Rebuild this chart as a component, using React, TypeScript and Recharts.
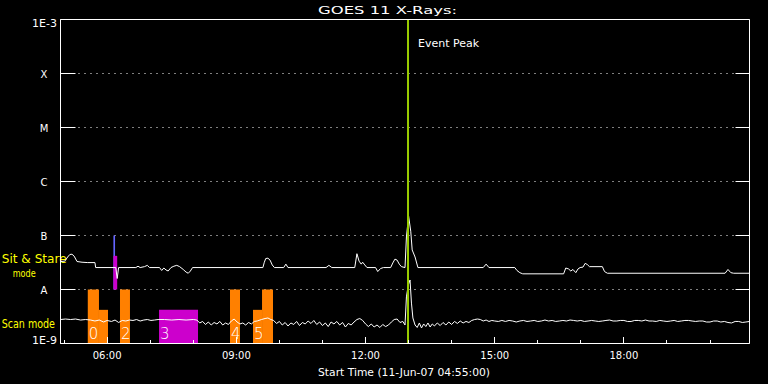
import {
  CartesianGrid,
  ComposedChart,
  Line,
  ReferenceArea,
  ReferenceLine,
  XAxis,
  YAxis,
} from "recharts";

const FONT = "'DejaVu Sans', sans-serif";
const YELLOW = "#ffff00";
const PEAK_GREEN = "#99cc00";
const KIND_COLOR: Record<string, string> = {
  scanA: "#ff8000",
  scanB: "#cc00cc",
  stareA: "#6464ff",
  stareB: "#cc00cc",
};

// time in minutes after 00:00 UT, 11-Jun-07
const T_START = 295; // 04:55
const T_END = 1255;
const EVENT_PEAK = 779.2;

const HOUR_TICKS = [300, 360, 420, 480, 540, 600, 660, 720, 780, 840, 900, 960, 1020, 1080, 1140, 1200];
const HOUR_LABELS = ["", "06:00", "", "", "09:00", "", "", "12:00", "", "", "15:00", "", "", "18:00", "", ""];

const FLUX_TICKS = [1e-9, 1e-8, 1e-7, 1e-6, 1e-5, 1e-4, 1e-3];
const FLUX_LABELS = ["1E-9", "A", "B", "C", "M", "X", "1E-3"];

// 1-8 A channel [minute, W/m^2]
const LONG_CH: [number, number][] = [
  [295, 3.3e-8], [301, 3.35e-8], [305, 4.0e-8], [308, 4.45e-8], [311, 4.5e-8], [314, 4.15e-8],
  [318, 3.3e-8], [325, 3.2e-8], [333, 3.15e-8], [343, 3.15e-8], [344, 2.55e-8], [372, 2.55e-8],
  [374, 1.6e-8], [376, 2.55e-8], [400, 2.55e-8], [403, 2.7e-8], [406, 2.55e-8], [412, 2.65e-8],
  [416, 2.8e-8], [419, 2.55e-8], [433, 2.55e-8], [436, 2.25e-8], [439, 2.5e-8], [442, 2.3e-8],
  [445, 2.2e-8], [449, 2.55e-8], [453, 2.7e-8], [457, 2.8e-8], [461, 2.65e-8], [466, 2.35e-8],
  [470, 2.1e-8], [473, 2.0e-8], [476, 2.2e-8], [479, 2.55e-8], [577, 2.55e-8], [579, 3.2e-8],
  [581, 3.75e-8], [584, 3.8e-8], [587, 3.5e-8], [590, 2.85e-8], [593, 2.55e-8], [606, 2.55e-8],
  [609, 2.95e-8], [612, 2.55e-8], [665, 2.55e-8], [669, 2.8e-8], [673, 2.55e-8], [705, 2.55e-8],
  [708, 4.6e-8], [711, 3.35e-8], [714, 2.95e-8], [716, 3.2e-8], [719, 2.85e-8], [722, 2.55e-8],
  [734, 2.55e-8], [737, 2.15e-8], [741, 2.45e-8], [745, 2.55e-8], [755, 2.55e-8], [758, 3.1e-8],
  [761, 3.65e-8], [764, 3.5e-8], [767, 2.95e-8], [770, 2.65e-8], [775, 2.55e-8], [777, 9.4e-8],
  [780, 2.3e-7], [783, 1.2e-7], [785, 5.4e-8], [789, 4.0e-8], [793, 2.55e-8], [884, 2.55e-8],
  [888, 2.95e-8], [892, 2.55e-8], [928, 2.55e-8], [931, 2.25e-8], [935, 2.05e-8], [939, 1.95e-8],
  [996, 1.95e-8], [999, 2.5e-8], [1003, 2.4e-8], [1006, 2.2e-8], [1009, 2.35e-8], [1013, 2.05e-8],
  [1016, 2.4e-8], [1019, 2.55e-8], [1023, 2.6e-8], [1026, 3.05e-8], [1029, 2.9e-8], [1032, 2.65e-8],
  [1050, 2.65e-8], [1053, 2.15e-8], [1057, 2.0e-8], [1221, 2.0e-8], [1225, 2.35e-8], [1229, 2.05e-8],
  [1233, 2.0e-8], [1255, 2.0e-8],
];

// 0.5-4 A channel [minute, W/m^2]
const SHORT_CH: [number, number][] = [
  [295, 2.78e-9], [302, 2.84e-9], [309, 2.78e-9], [316, 2.84e-9], [323, 2.72e-9], [330, 2.78e-9],
  [337, 2.72e-9], [343, 2.61e-9], [349, 2.72e-9], [355, 2.5e-9], [360, 2.67e-9], [366, 2.56e-9],
  [371, 2.72e-9], [376, 2.45e-9], [381, 2.67e-9], [386, 2.61e-9], [391, 2.72e-9], [396, 2.67e-9],
  [401, 2.78e-9], [406, 2.61e-9], [411, 2.72e-9], [416, 2.78e-9], [421, 2.67e-9], [426, 2.72e-9],
  [431, 2.78e-9], [440, 2.78e-9], [450, 2.72e-9], [460, 2.78e-9], [470, 2.72e-9], [480, 2.78e-9],
  [485, 2.72e-9], [489, 2.4e-9], [493, 2.56e-9], [497, 2.25e-9], [501, 2.5e-9], [505, 2.2e-9],
  [509, 2.45e-9], [513, 2.3e-9], [517, 2.56e-9], [521, 2.2e-9], [525, 2.4e-9], [529, 2.25e-9],
  [533, 2.61e-9], [537, 2.84e-9], [541, 2.5e-9], [545, 2.3e-9], [549, 2.4e-9], [553, 2.2e-9],
  [557, 2.45e-9], [561, 2.3e-9], [565, 2.56e-9], [569, 2.61e-9], [575, 2.78e-9], [580, 2.9e-9],
  [584, 2.97e-9], [588, 2.78e-9], [592, 2.67e-9], [596, 2.35e-9], [600, 2.56e-9], [604, 2.2e-9],
  [608, 2.45e-9], [612, 2.11e-9], [616, 2.4e-9], [620, 2.25e-9], [624, 2.56e-9], [628, 2.15e-9],
  [632, 2.45e-9], [636, 2.3e-9], [640, 2.61e-9], [644, 2.35e-9], [648, 2.67e-9], [652, 2.25e-9],
  [656, 2.5e-9], [660, 2.15e-9], [664, 2.4e-9], [668, 2.06e-9], [672, 2.5e-9], [676, 2.3e-9],
  [680, 2.56e-9], [684, 2.2e-9], [688, 2.45e-9], [692, 2.02e-9], [696, 2.35e-9], [700, 2.2e-9],
  [704, 2.5e-9], [708, 2.78e-9], [712, 2.9e-9], [716, 2.67e-9], [720, 2.3e-9], [724, 2.06e-9],
  [728, 2.3e-9], [732, 2.02e-9], [736, 2.2e-9], [740, 1.98e-9], [744, 2.25e-9], [748, 2.06e-9],
  [752, 2.2e-9], [756, 2.5e-9], [760, 2.78e-9], [764, 2.84e-9], [768, 2.45e-9], [772, 2.56e-9],
  [775, 2.2e-9], [777, 7.3e-9], [779.5, 1.2e-8], [782, 1.5e-8], [784, 5.6e-9], [786, 2.97e-9],
  [789, 2.2e-9], [792, 1.98e-9], [795, 2.4e-9], [798, 1.94e-9], [801, 2.3e-9], [804, 2.06e-9],
  [807, 2.4e-9], [810, 2.02e-9], [813, 2.3e-9], [816, 2.11e-9], [820, 2.4e-9], [824, 2.15e-9],
  [828, 2.45e-9], [832, 2.2e-9], [836, 2.5e-9], [840, 2.25e-9], [844, 2.56e-9], [848, 2.35e-9],
  [852, 2.61e-9], [856, 2.4e-9], [860, 2.56e-9], [864, 2.45e-9], [868, 2.67e-9], [872, 2.78e-9],
  [876, 2.84e-9], [880, 2.78e-9], [884, 2.61e-9], [888, 2.72e-9], [892, 2.56e-9], [896, 2.67e-9],
  [900, 2.61e-9], [905, 2.56e-9], [910, 2.67e-9], [915, 2.56e-9], [920, 2.67e-9], [925, 2.61e-9],
  [930, 2.5e-9], [935, 2.61e-9], [940, 2.67e-9], [945, 2.56e-9], [950, 2.61e-9], [955, 2.67e-9],
  [960, 2.56e-9], [965, 2.61e-9], [970, 2.72e-9], [975, 2.61e-9], [980, 2.67e-9], [985, 2.56e-9],
  [990, 2.61e-9], [995, 2.67e-9], [1000, 2.61e-9], [1005, 2.72e-9], [1010, 2.67e-9], [1015, 2.61e-9],
  [1020, 2.67e-9], [1025, 2.56e-9], [1030, 2.61e-9], [1035, 2.67e-9], [1040, 2.61e-9], [1045, 2.56e-9],
  [1050, 2.61e-9], [1055, 2.67e-9], [1060, 2.72e-9], [1065, 2.61e-9], [1070, 2.61e-9], [1075, 2.67e-9],
  [1080, 2.67e-9], [1085, 2.56e-9], [1090, 2.56e-9], [1095, 2.67e-9], [1100, 2.67e-9], [1105, 2.61e-9],
  [1110, 2.72e-9], [1115, 2.61e-9], [1120, 2.61e-9], [1125, 2.56e-9], [1130, 2.67e-9], [1135, 2.61e-9],
  [1140, 2.56e-9], [1145, 2.61e-9], [1150, 2.67e-9], [1155, 2.56e-9], [1160, 2.61e-9], [1165, 2.67e-9],
  [1170, 2.67e-9], [1175, 2.61e-9], [1180, 2.56e-9], [1185, 2.61e-9], [1190, 2.61e-9], [1195, 2.5e-9],
  [1200, 2.5e-9], [1205, 2.61e-9], [1210, 2.61e-9], [1215, 2.5e-9], [1220, 2.56e-9], [1225, 2.45e-9],
  [1230, 2.4e-9], [1235, 2.56e-9], [1240, 2.56e-9], [1245, 2.45e-9], [1250, 2.5e-9], [1255, 2.56e-9],
];

// observing-mode blocks: start, end, bottom, top, kind, label
const OBS_START = [333, 348.6, 377.9, 432.3, 531.2, 563.2, 575.8, 368.7, 368.7];
const OBS_END = [348.6, 361.2, 391.8, 486.6, 545.1, 575.8, 591.1, 371, 374];
const OBS_BOTTOM = [1e-9, 1e-9, 1e-9, 1e-9, 1e-9, 1e-9, 1e-9, 1e-8, 1e-8];
const OBS_TOP = [1e-8, 4.2e-9, 1e-8, 4.2e-9, 1e-8, 4.2e-9, 1e-8, 1e-7, 4.2e-8];
const OBS_KIND = ["scanA", "scanA", "scanA", "scanB", "scanA", "scanA", "scanA", "stareA", "stareB"];
const OBS_LABEL = ["0", "", "2", "3", "4", "5", "", "", ""];

const longData = LONG_CH.map(([t, f]) => ({ t, f }));
const shortData = SHORT_CH.map(([t, f]) => ({ t, f }));

const snap = (v: number) => Math.round(v - 0.5) + 0.5;

function BottomTick(props: any) {
  const { x, y, index } = props;
  const label = HOUR_LABELS[index];
  const xx = snap(x);
  return (
    <g>
      <line x1={xx} x2={xx} y1={y} y2={y - (label ? 6.5 : 3.5)} stroke="#fff" />
      {label && (
        <text x={x} y={y + 15.2} textAnchor="middle" fill="#fff" fontSize={10} fontFamily={FONT}>
          {label}
        </text>
      )}
    </g>
  );
}

function TopTick(props: any) {
  const { x, y, index } = props;
  const xx = snap(x);
  return <line x1={xx} x2={xx} y1={y} y2={y + (HOUR_LABELS[index] ? 6.5 : 3.5)} stroke="#fff" />;
}

function LeftTick(props: any) {
  const { x, y, index } = props;
  const label = FLUX_LABELS[index];
  const numeric = label.startsWith("1E");
  let ty = y + 4.5;
  if (label === "1E-3") ty = y + 7.2;
  if (label === "1E-9") ty = y + 0.5;
  return (
    <g>
      <line x1={x} x2={x + 15} y1={y} y2={y} stroke="#fff" />
      <text
        x={numeric ? x - 3.5 : x - 16.5}
        y={ty}
        textAnchor={numeric ? "end" : "middle"}
        fill="#fff"
        fontSize={numeric ? 11 : 10}
        fontFamily={FONT}
      >
        {label}
      </text>
    </g>
  );
}

function RightTick(props: any) {
  const { x, y } = props;
  return <line x1={x - 14} x2={x} y1={y} y2={y} stroke="#fff" />;
}

export default function App() {
  return (
    <div style={{ position: "absolute", left: 0, top: 0, width: 768, height: 384, background: "#000" }}>
      <ComposedChart width={768} height={384} margin={{ top: 0, right: 0, bottom: 0, left: 0 }}>
        <CartesianGrid vertical={false} stroke="#fff" strokeDasharray="1 5" />
        <XAxis
          dataKey="t"
          type="number"
          domain={[T_START, T_END]}
          allowDataOverflow
          ticks={HOUR_TICKS}
          interval={0}
          height={40.5}
          tickSize={0}
          tickMargin={0}
          tickLine={false}
          tick={BottomTick}
          axisLine={{ stroke: "#fff" }}
        />
        <XAxis
          xAxisId="top"
          orientation="top"
          type="number"
          domain={[T_START, T_END]}
          allowDataOverflow
          ticks={HOUR_TICKS}
          interval={0}
          height={19.5}
          tickSize={0}
          tickMargin={0}
          tickLine={false}
          tick={TopTick}
          axisLine={{ stroke: "#fff" }}
        />
        <YAxis
          scale="log"
          type="number"
          domain={[1e-9, 1e-3]}
          allowDataOverflow
          ticks={FLUX_TICKS}
          interval={0}
          width={60.5}
          tickSize={0}
          tickMargin={0}
          tickLine={false}
          tick={LeftTick}
          axisLine={{ stroke: "#fff" }}
        />
        <YAxis
          yAxisId="right"
          orientation="right"
          scale="log"
          type="number"
          domain={[1e-9, 1e-3]}
          allowDataOverflow
          ticks={FLUX_TICKS}
          interval={0}
          width={18.5}
          tickSize={0}
          tickMargin={0}
          tickLine={false}
          tick={RightTick}
          axisLine={{ stroke: "#fff" }}
        />

        {OBS_START.map((s, i) => (
          <ReferenceArea
            key={i}
            x1={s}
            x2={OBS_END[i]}
            y1={OBS_BOTTOM[i]}
            y2={OBS_TOP[i]}
            fill={KIND_COLOR[OBS_KIND[i]]}
            fillOpacity={1}
            stroke="none"
            label={
              OBS_LABEL[i]
                ? (p: any) => (
                    <text
                      x={p.viewBox.x + 1}
                      y={p.viewBox.y + p.viewBox.height - 5}
                      fill="#fff"
                      fontSize={15}
                      fontWeight={200}
                      fontFamily={FONT}
                    >
                      {OBS_LABEL[i]}
                    </text>
                  )
                : undefined
            }
          />
        ))}

        <Line data={longData} dataKey="f" type="linear" stroke="#fff" strokeWidth={1} dot={false} isAnimationActive={false} />
        <Line data={shortData} dataKey="f" type="linear" stroke="#fff" strokeWidth={1} dot={false} isAnimationActive={false} />

        <ReferenceLine
          x={EVENT_PEAK}
          stroke={PEAK_GREEN}
          strokeWidth={2}
          label={(p: any) => (
            <text x={p.viewBox.x + 10} y={p.viewBox.y + 27.5} fill="#fff" fontSize={11} fontFamily={FONT}>
              Event Peak
            </text>
          )}
        />

        <text x={387.5} y={14} textAnchor="middle" textLength={139} lengthAdjust="spacingAndGlyphs" fontSize={11} fill="#fff" fontFamily={FONT}>
          GOES 11 X-Rays:
        </text>
        <text x={404} y={375.5} textAnchor="middle" textLength={172} lengthAdjust="spacingAndGlyphs" fontSize={11} fill="#fff" fontFamily={FONT}>
          Start Time (11-Jun-07 04:55:00)
        </text>
        <text x={1.7} y={262.8} textLength={65} lengthAdjust="spacingAndGlyphs" fontSize={11.5} fill={YELLOW} fontFamily={FONT}>
          Sit &amp; Stare
        </text>
        <text x={12.7} y={276.5} textLength={23} lengthAdjust="spacingAndGlyphs" fontSize={10.5} fill={YELLOW} fontFamily={FONT}>
          mode
        </text>
        <text x={1.7} y={328.3} textLength={53.3} lengthAdjust="spacingAndGlyphs" fontSize={12} fill={YELLOW} fontFamily={FONT}>
          Scan mode
        </text>
      </ComposedChart>
    </div>
  );
}
